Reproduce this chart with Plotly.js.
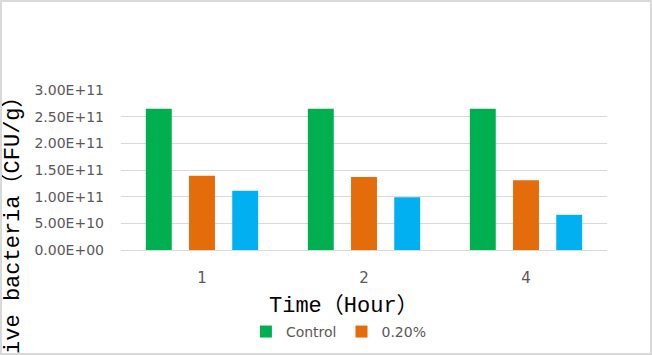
<!DOCTYPE html>
<html><head><meta charset="utf-8">
<script src="https://cdn.plot.ly/plotly-3.0.1.min.js"></script>
<style>
html,body{margin:0;padding:0;background:#fff;}
#wrap{width:652px;height:355px;box-sizing:border-box;border:2px solid #d9d9d9;overflow:hidden;}
#chart{width:648px;height:351px;}
</style></head>
<body><div id="wrap"><div id="chart"></div></div>
<script>
const categories = ["1", "2", "4"];
const seriesNames = ["Control", "0.20%", "0.40%"];
const control = [2.65e11, 2.65e11, 2.65e11];
const dose020 = [1.39e11, 1.37e11, 1.31e11];
const dose040 = [1.11e11, 0.99e11, 0.66e11];
const yTickVals = [0, 5e10, 1e11, 1.5e11, 2e11, 2.5e11, 3e11];
const yTickText = ["0.00E+00", "5.00E+10", "1.00E+11", "1.50E+11", "2.00E+11", "2.50E+11", "3.00E+11"];
const xTitle = "Time（Hour）";
const yTitle = "Live bacteria（CFU/g）";

const colors = ["#00B050", "#E46C0A", "#00B0F0"];
const values = [control, dose020, dose040];
const traces = values.map((v, i) => ({
  type: "bar", x: categories, y: v, name: seriesNames[i],
  marker: {color: colors[i]}, showlegend: i < 2, hoverinfo: "none"
}));

const titleFont = {family: "Liberation Mono, Noto Sans CJK SC", size: 22, color: "#000"};
const layout = {
  width: 648, height: 351,
  margin: {l: 119, r: 43, t: 88, b: 103},
  paper_bgcolor: "#fff", plot_bgcolor: "#fff",
  barmode: "group", bargap: 0.2, bargroupgap: 0.4,
  font: {family: "DejaVu Sans", color: "#595959"},
  xaxis: {
    type: "category", showgrid: false, showline: true, linecolor: "#d9d9d9", linewidth: 1,
    ticks: "", tickfont: {size: 15, family: "DejaVu Sans", color: "#595959"},
    ticklabelstandoff: 14
  },
  yaxis: {
    range: [0, 3e11], tickvals: yTickVals, ticktext: yTickText,
    showgrid: true, gridcolor: "#d9d9d9", gridwidth: 1, zeroline: false, showline: false,
    ticks: "", tickfont: {size: 14, family: "DejaVu Sans", color: "#595959"},
    ticklabelstandoff: 16
  },
  legend: {orientation: "h", xref: "paper", yref: "container", x: 0.257, xanchor: "left",
    y: 0.06, yanchor: "middle",
    font: {size: 14, family: "DejaVu Sans", color: "#595959"}, itemwidth: 30, traceorder: "normal"},
  annotations: [{
    text: yTitle, textangle: -90, xref: "paper", yref: "paper",
    x: -0.222, y: 0.15, xanchor: "center", yanchor: "middle", showarrow: false, font: titleFont
  }, {
    text: xTitle, xref: "paper", yref: "paper",
    x: 0.459, y: -0.356, xanchor: "center", yanchor: "middle", showarrow: false, font: titleFont
  }]
};
Plotly.newPlot("chart", traces, layout, {staticPlot: true, displayModeBar: false});
</script></body></html>
